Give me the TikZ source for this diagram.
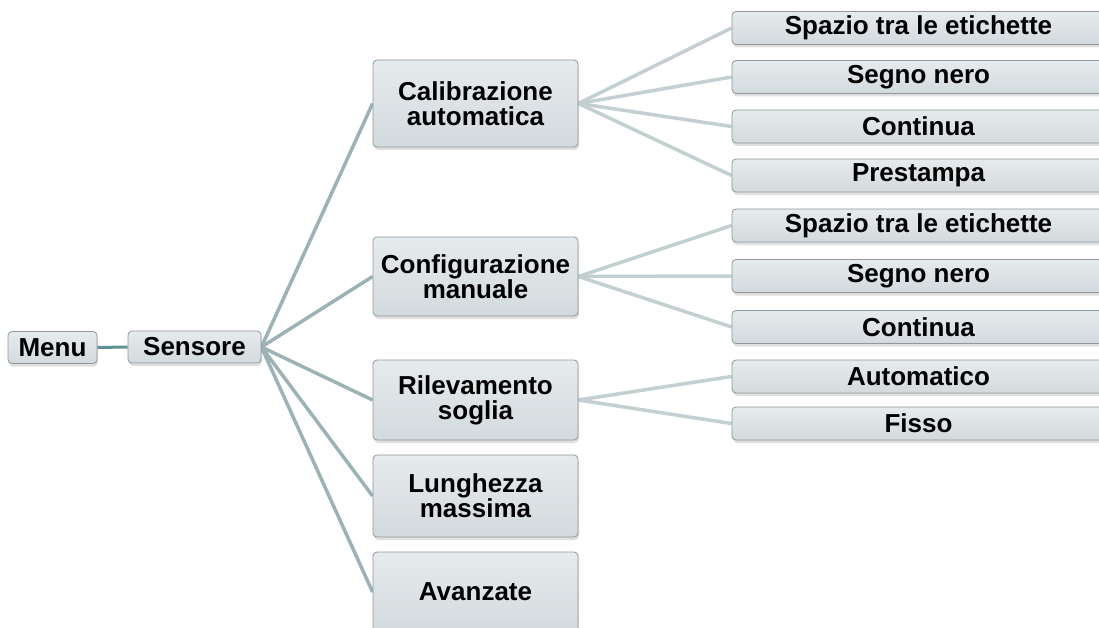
\documentclass[tikz,border=0pt]{standalone}
\usepackage{fontspec}
\setmainfont{Liberation Sans}
\usetikzlibrary{shadows,backgrounds}
\definecolor{boxborder}{HTML}{8E979B}
\definecolor{boxtop}{HTML}{E6EBED}
\definecolor{boxbot}{HTML}{D3DADD}
\definecolor{linkA}{HTML}{5E9297}
\definecolor{linkB}{HTML}{9DB2B5}
\definecolor{linkC}{HTML}{C3CFD0}
\tikzset{
  box/.style={draw=boxborder, line width=0.8pt, rounded corners=4pt,
    top color=boxtop, bottom color=boxbot,
    drop shadow={opacity=0.25, shadow xshift=1pt, shadow yshift=-3pt},
    font=\fontsize{26}{25}\selectfont\bfseries, align=center, inner sep=0pt,
    text=black},
  lvlA/.style={box, minimum width=205pt},
  lvlB/.style={box, minimum width=373pt, minimum height=33pt},
  linkmain/.style={draw=linkA, line width=3pt},
  linkfan/.style={draw=linkB, line width=3.5pt},
  linksub/.style={draw=linkC, line width=3.5pt}
}
\begin{document}
\begin{tikzpicture}[x=1pt, y=-1pt]
\useasboundingbox (0,0) rectangle (1099,628);
\clip (0,0) rectangle (1099,628);
\node[box, minimum width=89pt, minimum height=32pt] (menu) at (52.5,347.5) {Menu};
\node[box, minimum width=133pt, minimum height=32pt] (sensore) at (194.5,347) {Sensore};
\node[lvlA, minimum height=87pt] (cal) at (475.5,103.5) {Calibrazione\\automatica};
\node[lvlA, minimum height=79pt] (conf) at (475.5,276.5) {Configurazione\\manuale};
\node[lvlA, minimum height=80pt] (ril) at (475.5,400) {Rilevamento\\soglia};
\node[lvlA, minimum height=82pt] (lun) at (475.5,496) {Lunghezza\\massima};
\node[lvlA, minimum height=80pt] (ava) at (475.5,592) {Avanzate};
\node[lvlB] (c1) at (918.5,28) {Spazio tra le etichette};
\node[lvlB] (c2) at (918.5,77) {Segno nero};
\node[lvlB] (c3) at (918.5,126.5) {Continua};
\node[lvlB] (c4) at (918.5,175.5) {Prestampa};
\node[lvlB] (m1) at (918.5,225.5) {Spazio tra le etichette};
\node[lvlB] (m2) at (918.5,276) {Segno nero};
\node[lvlB] (m3) at (918.5,327) {Continua};
\node[lvlB] (r1) at (918.5,376.5) {Automatico};
\node[lvlB] (r2) at (918.5,423.5) {Fisso};
\begin{scope}[on background layer]
\draw[linkmain] (menu.east) -- (sensore.west);
\foreach \t in {cal,conf,ril,lun,ava}
  \draw[linkfan] (sensore.east) -- (\t.west);
\foreach \t in {c1,c2,c3,c4}
  \draw[linksub] (cal.east) -- (\t.west);
\foreach \t in {m1,m2,m3}
  \draw[linksub] (conf.east) -- (\t.west);
\foreach \t in {r1,r2}
  \draw[linksub] (ril.east) -- (\t.west);
\end{scope}
\end{tikzpicture}
\end{document}
